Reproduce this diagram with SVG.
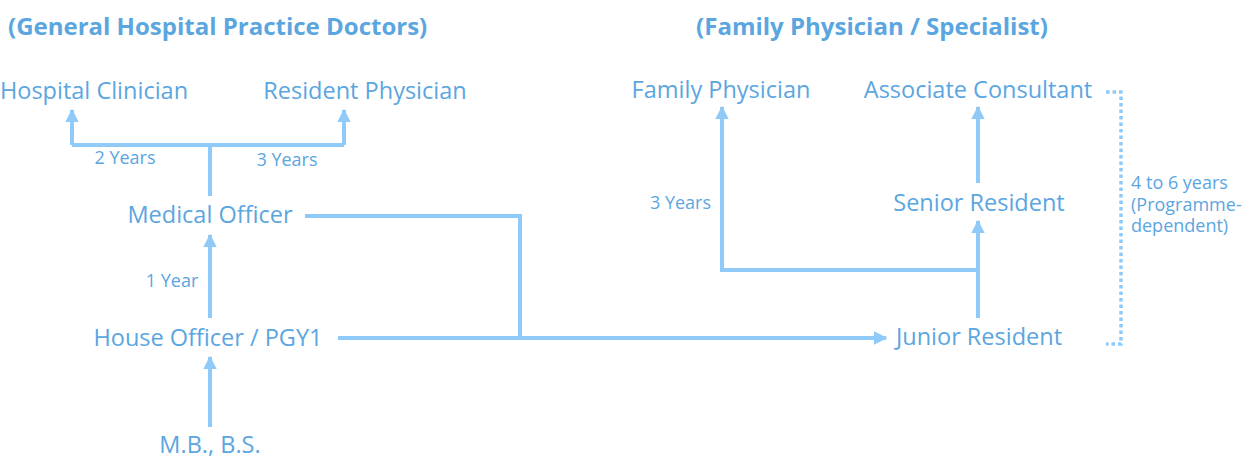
<svg xmlns="http://www.w3.org/2000/svg" width="1253" height="464" viewBox="0 0 1253 464">
<defs>
<style>
.t{font-family:"Open Sans","Liberation Sans",sans-serif;fill:#5ba6df;}
.title{font-size:24px;font-weight:bold;}
.node{font-size:23.5px;}
.lbl{font-size:18px;}
.ln{fill:none;stroke:#90caf9;stroke-width:4;}
.dot{fill:none;stroke:#90caf9;stroke-width:3.5;stroke-dasharray:3.5 3;}
</style>
<marker id="ah" viewBox="0 0 10 10" refX="9" refY="5" markerWidth="3.4" markerHeight="3.4" orient="auto" markerUnits="strokeWidth">
<path d="M0,0 L10,5 L0,10 z" fill="#90caf9"/>
</marker>
</defs>
<rect width="1253" height="464" fill="#ffffff"/>
<g id="titles">
<text class="t title" x="8" y="35">(General Hospital Practice Doctors)</text>
<text class="t title" x="872" y="35" text-anchor="middle">(Family Physician / Specialist)</text>
</g>
<g id="connectors">
<path class="ln" d="M210,196 V145"/>
<path class="ln" d="M72,145 H344" />
<path class="ln" d="M72,145 V110" marker-end="url(#ah)"/>
<path class="ln" d="M344,145 V110" marker-end="url(#ah)"/>
<path class="ln" d="M210,318 V235" marker-end="url(#ah)"/>
<path class="ln" d="M210,427 V357" marker-end="url(#ah)"/>
<path class="ln" d="M305,216 H520 V338"/>
<path class="ln" d="M338,338 H886" marker-end="url(#ah)"/>
<path class="ln" d="M978,318 V221" marker-end="url(#ah)"/>
<path class="ln" d="M978,270 H722 V107" marker-end="url(#ah)"/>
<path class="ln" d="M978,183 V107" marker-end="url(#ah)"/>
<path class="dot" d="M1106,92 H1121 V344 H1106"/>
</g>
<g id="labels">
<text class="t lbl" x="125" y="164" text-anchor="middle">2 Years</text>
<text class="t lbl" x="287" y="166" text-anchor="middle">3 Years</text>
<text class="t lbl" x="172" y="287" text-anchor="middle">1 Year</text>
<text class="t lbl" x="711" y="209" text-anchor="end">3 Years</text>
<text class="t lbl" x="1131" y="189">4 to 6 years<tspan x="1131" dy="21.5">(Programme-</tspan><tspan x="1131" dy="21.5">dependent)</tspan></text>
</g>
<g id="n-hospital-clinician"><text class="t node" x="94" y="99" text-anchor="middle">Hospital Clinician</text></g>
<g id="n-resident-physician"><text class="t node" x="365" y="99" text-anchor="middle">Resident Physician</text></g>
<g id="n-medical-officer"><text class="t node" x="210" y="223" text-anchor="middle">Medical Officer</text></g>
<g id="n-house-officer"><text class="t node" x="208" y="346" text-anchor="middle">House Officer / PGY1</text></g>
<g id="n-mbbs"><text class="t node" x="210" y="453" text-anchor="middle">M.B., B.S.</text></g>
<g id="n-family-physician"><text class="t node" x="721" y="98" text-anchor="middle">Family Physician</text></g>
<g id="n-associate-consultant"><text class="t node" x="978" y="98" text-anchor="middle">Associate Consultant</text></g>
<g id="n-senior-resident"><text class="t node" x="979" y="211" text-anchor="middle">Senior Resident</text></g>
<g id="n-junior-resident"><text class="t node" x="979" y="345" text-anchor="middle">Junior Resident</text></g>
</svg>
